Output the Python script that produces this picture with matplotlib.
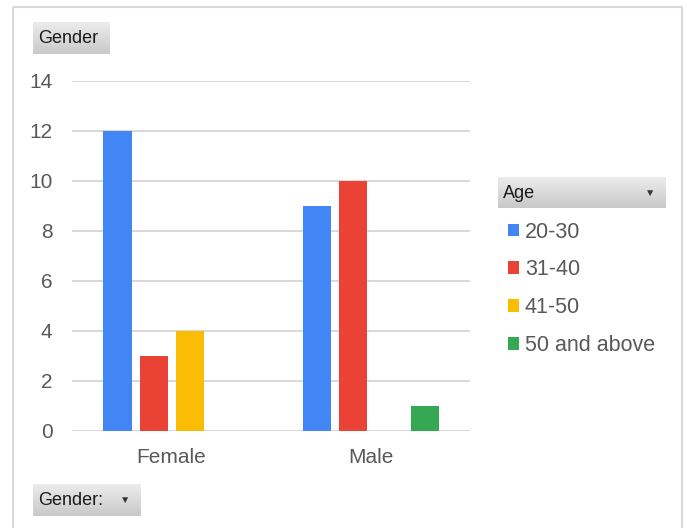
import matplotlib
matplotlib.use("Agg")
import matplotlib.pyplot as plt
import numpy as np
from matplotlib.patches import Rectangle

categories = ["Female", "Male"]
series_names = ["20-30", "31-40", "41-50", "50 and above"]
values = {
    "20-30": [12, 9],
    "31-40": [3, 10],
    "41-50": [4, 0],
    "50 and above": [0, 1],
}
colors = ["#4285F4", "#EA4335", "#FBBC04", "#34A853"]
yticks = [0, 2, 4, 6, 8, 10, 12, 14]

W, H = 689, 528
fig = plt.figure(figsize=(W / 100, H / 100), dpi=100)
plt.rcParams['font.family'] = ['Liberation Sans', 'DejaVu Sans']
text_c = "#595959"

# overlay in pixel coords
ov = fig.add_axes([0, 0, 1, 1], zorder=0)
ov.set_xlim(0, W)
ov.set_ylim(H, 0)
ov.axis("off")
ov.add_patch(Rectangle((13, 7), 669, 530, fill=False, ec="#d9d9d9", lw=1.5))

def button(x0, y0, w, h, label, arrow=False, arrow_x=None, fs=13):
    grad = np.linspace(0, 1, 50).reshape(-1, 1)
    ov.imshow(grad, cmap=matplotlib.colors.LinearSegmentedColormap.from_list(
        "g", ["#ececec", "#c9c9c9"]), extent=(x0, x0 + w, y0 + h, y0),
        aspect="auto", zorder=1, origin="upper")
    ov.text(x0 + 5, y0 + h / 2 + 0.5, label, fontsize=fs, color="#1a1a1a",
            va="center", ha="left", zorder=2)
    if arrow:
        ov.text(arrow_x, y0 + h / 2, "\u25BC", fontsize=7.5, color="#333333",
                va="center", ha="center", zorder=2)

button(33, 22, 77, 32, "Gender")
button(33, 484, 108, 32, "Gender:", arrow=True, arrow_x=125)
button(498, 177, 168, 31, "Age", arrow=True, arrow_x=650)
ov.set_xlim(0, W)
ov.set_ylim(H, 0)

ax = fig.add_axes([72 / W, 97 / H, 398 / W, 350 / H], zorder=2)
ax.patch.set_alpha(0)
x = np.arange(len(categories))
step = 36 / 199
bw = 28 / 199
n = len(series_names)
for i, (name, c) in enumerate(zip(series_names, colors)):
    ax.bar(x + (i - (n - 1) / 2) * step, values[name], width=bw, color=c,
           label=name, zorder=3)
ax.set_xlim(-0.5, 1.5)
ax.set_ylim(0, 14)
ax.set_yticks(yticks)
ax.set_xticks(x)
ax.set_xticklabels(categories)
ax.grid(axis="y", color="#d6d6d6", lw=1.3, zorder=0)
for s in ax.spines.values():
    s.set_visible(False)
ax.tick_params(axis="both", length=0, labelsize=15, colors=text_c)
ax.tick_params(axis="y", pad=14)
ax.tick_params(axis="x", pad=12)

leg = ax.legend(loc="upper left", bbox_to_anchor=(499 / W, 1 - 213 / H),
                bbox_transform=fig.transFigure, frameon=False,
                fontsize=15.5, handlelength=0.55, handleheight=0.55,
                handletextpad=0.25, labelspacing=0.78, borderaxespad=0)
for t in leg.get_texts():
    t.set_color(text_c)

fig.savefig("out.png", dpi=100)
